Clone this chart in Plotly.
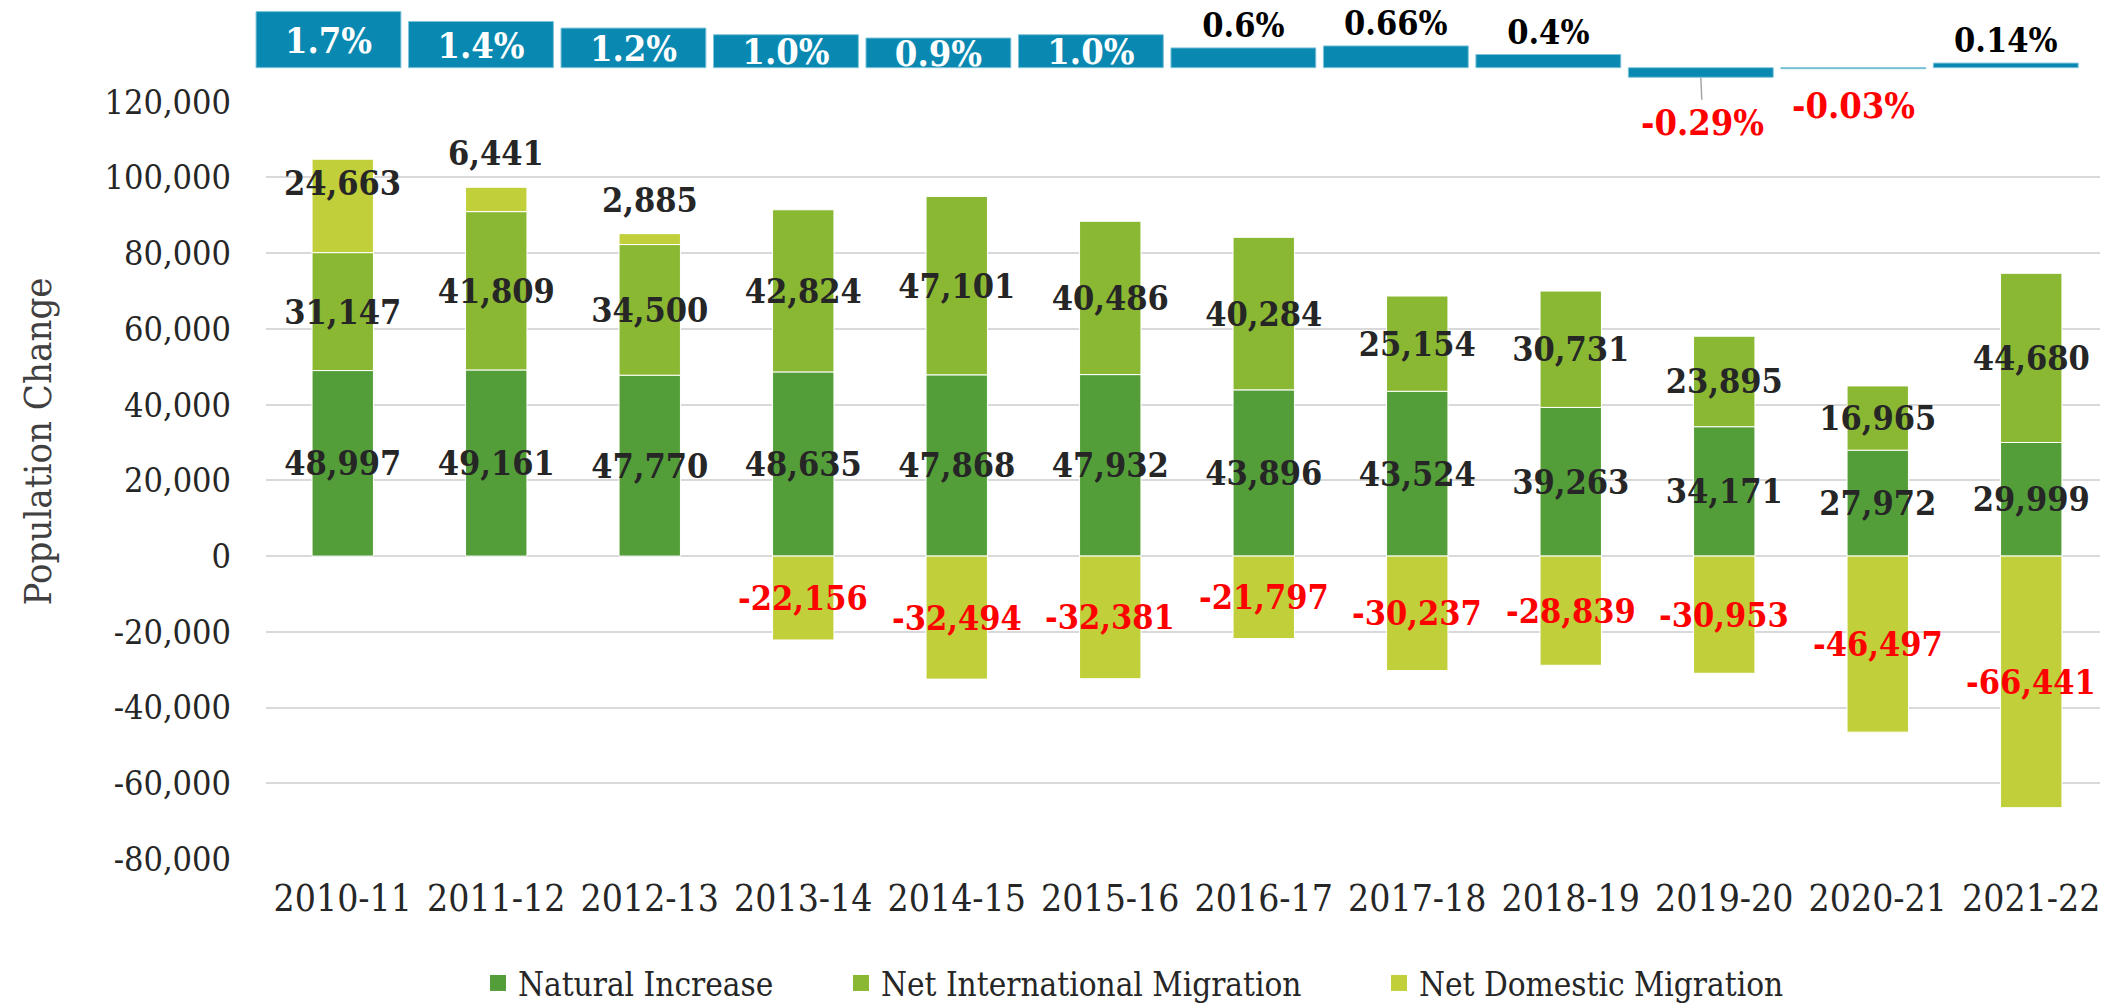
import plotly.graph_objects as go

# ---------------- data ----------------
years = ["2010-11", "2011-12", "2012-13", "2013-14", "2014-15", "2015-16",
         "2016-17", "2017-18", "2018-19", "2019-20", "2020-21", "2021-22"]
natural_increase = [48997, 49161, 47770, 48635, 47868, 47932, 43896, 43524, 39263, 34171, 27972, 29999]
net_international = [31147, 41809, 34500, 42824, 47101, 40486, 40284, 25154, 30731, 23895, 16965, 44680]
net_domestic = [24663, 6441, 2885, -22156, -32494, -32381, -21797, -30237, -28839, -30953, -46497, -66441]
growth_pct = [1.7, 1.4, 1.2, 1.0, 0.9, 1.0, 0.6, 0.66, 0.4, -0.29, -0.03, 0.14]
growth_labels = ["1.7%", "1.4%", "1.2%", "1.0%", "0.9%", "1.0%", "0.6%", "0.66%", "0.4%", "-0.29%", "-0.03%", "0.14%"]
y_ticks = [-80000, -60000, -40000, -20000, 0, 20000, 40000, 60000, 80000, 100000, 120000]
series_names = ["Natural Increase", "Net International Migration", "Net Domestic Migration"]

# ---------------- styling ----------------
OFF = 8                        # default page body margin
W, H = 2108 - OFF, 1004 - OFF  # figure size so it fills the window


def px_x(X):
    """screen x (px) -> paper fraction"""
    return (X - OFF) / W


def px_y(Y):
    """screen y (px from top) -> paper fraction"""
    return 1 - (Y - OFF) / H


FONT = "DejaVu Serif Condensed, Liberation Serif, serif"
C_NAT, C_INT, C_DOM, C_GROW = "#549E39", "#8AB833", "#C0CF3A", "#0989B1"
SERIES_COLORS = [C_NAT, C_INT, C_DOM]
DARK, RED = "#262626", "#FF0000"
LBL = 34


def fmt(v):
    return f"{v:,}"


fig = go.Figure()

fig.add_trace(go.Bar(
    x=years, y=natural_increase, name=series_names[0], showlegend=False,
    marker=dict(color=C_NAT, line=dict(color="white", width=1)),
    width=0.40,
    text=[fmt(v) for v in natural_increase], textposition="inside",
    insidetextanchor="middle", constraintext="none", textangle=0,
    textfont=dict(family=FONT, size=LBL, color=DARK, weight="bold"),
    xaxis="x", yaxis="y", hoverinfo="skip"))

fig.add_trace(go.Bar(
    x=years, y=net_international, name=series_names[1], showlegend=False,
    marker=dict(color=C_INT, line=dict(color="white", width=1)),
    width=0.40,
    text=[fmt(v) for v in net_international], textposition="inside",
    insidetextanchor="middle", constraintext="none", textangle=0,
    textfont=dict(family=FONT, size=LBL, color=DARK, weight="bold"),
    xaxis="x", yaxis="y", hoverinfo="skip"))

fig.add_trace(go.Bar(
    x=years, y=net_domestic, name=series_names[2], showlegend=False,
    marker=dict(color=C_DOM, line=dict(color="white", width=1)),
    width=0.40,
    xaxis="x", yaxis="y", hoverinfo="skip"))

# legend entries (larger square swatches, like the reference)
for k, (nm, col) in enumerate(zip(series_names, SERIES_COLORS)):
    fig.add_trace(go.Scatter(
        x=[None], y=[None], mode="markers", name=nm,
        legend="legend" if k == 0 else f"legend{k + 1}",
        marker=dict(symbol="square", size=16, color=col),
        xaxis="x", yaxis="y", hoverinfo="skip"))

# top growth-rate strip
pos_inside = [v >= 0.9 for v in growth_pct]
fig.add_trace(go.Bar(
    x=years, y=growth_pct, showlegend=False,
    marker=dict(color=C_GROW, line=dict(color="#7FC4DA", width=1)),
    width=0.95,
    text=[lab if v > 0 else "" for lab, v in zip(growth_labels, growth_pct)],
    textposition=["inside" if ins else ("outside" if v > 0 else "none")
                  for ins, v in zip(pos_inside, growth_pct)],
    insidetextanchor="middle", constraintext="none", textangle=0, cliponaxis=False,
    textfont=dict(family=FONT, weight="bold",
                  size=[36 if ins else 34 for ins in pos_inside],
                  color=["white" if ins else "black" for ins in pos_inside]),
    xaxis="x2", yaxis="y2", hoverinfo="skip"))

annotations = []
# domestic migration labels
for i, yr in enumerate(years):
    v = net_domestic[i]
    if v < 0:
        annotations.append(dict(x=yr, y=v / 2, xref="x", yref="y", text=fmt(v),
                                showarrow=False, yanchor="middle",
                                font=dict(family=FONT, size=LBL, color=RED, weight="bold")))
    else:
        top = natural_increase[i] + net_international[i] + v
        if v >= 10000:
            annotations.append(dict(x=yr, y=top, xref="x", yref="y", text=fmt(v),
                                    showarrow=False, yanchor="top", yshift=-2,
                                    font=dict(family=FONT, size=LBL, color=DARK, weight="bold")))
        else:
            annotations.append(dict(x=yr, y=top, xref="x", yref="y", text=fmt(v),
                                    showarrow=False, yanchor="bottom", yshift=12,
                                    font=dict(family=FONT, size=LBL, color=DARK, weight="bold")))

# negative growth labels
for i, yr in enumerate(years):
    v = growth_pct[i]
    if v < 0:
        lead = abs(v) > 0.1
        annotations.append(dict(x=yr, y=v, xref="x2", yref="y2", text=growth_labels[i],
                                showarrow=True, arrowhead=0,
                                arrowcolor="#A6A6A6" if lead else "rgba(0,0,0,0)",
                                arrowwidth=1.5, ax=2 if lead else 0, ay=45 if lead else 36,
                                font=dict(family=FONT, size=36, color=RED, weight="bold")))

# y-axis title
annotations.append(dict(x=px_x(37.5), y=px_y(442), xref="paper", yref="paper",
                        text="Population Change", textangle=-90, showarrow=False,
                        xanchor="center", yanchor="middle",
                        font=dict(family=FONT, size=38, color="#404040")))

leg_common = dict(orientation="h", xanchor="left", yanchor="middle", y=px_y(983),
                  font=dict(family=FONT, size=33, color=DARK),
                  bgcolor="rgba(0,0,0,0)", itemsizing="trace")
fig.update_layout(
    width=W, height=H,
    margin=dict(l=0, r=0, t=0, b=0, autoexpand=False),
    paper_bgcolor="white", plot_bgcolor="white",
    barmode="relative",
    font=dict(family=FONT, color=DARK),
    xaxis=dict(type="category", domain=[px_x(266), 1.0], showgrid=False, showline=False,
               zeroline=False, ticks="", tickfont=dict(family=FONT, size=37, color=DARK),
               ticklabelstandoff=14, fixedrange=True, automargin=False),
    yaxis=dict(domain=[px_y(859), px_y(101.7)], range=[-80000, 120000],
               tickvals=y_ticks, ticktext=[fmt(v) for v in y_ticks],
               showgrid=True, gridcolor="#D9D9D9", gridwidth=2, zeroline=False,
               showline=False, ticks="", ticklabelstandoff=34,
               tickfont=dict(family=FONT, size=34, color=DARK), fixedrange=True,
               automargin=False),
    xaxis2=dict(type="category", domain=[px_x(252.25), px_x(2082)], anchor="y2",
                showgrid=False, showline=False, zeroline=False, showticklabels=False,
                ticks="", fixedrange=True, automargin=False),
    yaxis2=dict(domain=[px_y(84.2), px_y(9.95)], range=[-0.5, 1.75], anchor="x2",
                showgrid=False, zeroline=False, showline=False, showticklabels=False,
                ticks="", fixedrange=True, automargin=False),
    legend=dict(x=px_x(478), **leg_common),
    legend2=dict(x=px_x(841), **leg_common),
    legend3=dict(x=px_x(1379), **leg_common),
    annotations=annotations,
    showlegend=True,
)

fig.write_html("out.html")
